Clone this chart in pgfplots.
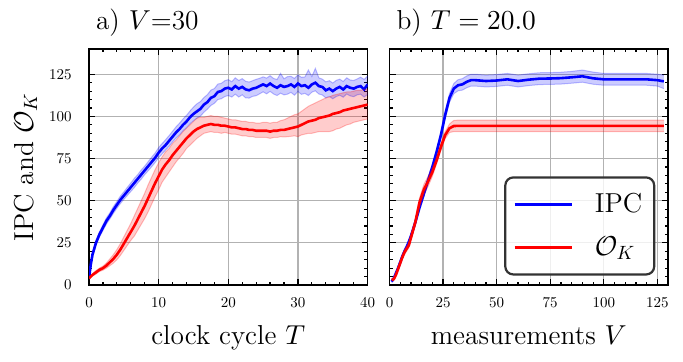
\RequirePackage{fix-cm}
\documentclass[border=0pt]{standalone}
\usepackage{pgfplots}
\pgfplotsset{compat=1.18}
\usepgfplotslibrary{fillbetween}
\usepackage{pgfplotstable}
% 10pt design of Computer Modern at every size
\DeclareFontShape{OT1}{cmr}{m}{n}{<-> cmr10}{}
\DeclareFontShape{OML}{cmm}{m}{it}{<-> cmmi10}{}
\DeclareFontShape{OMS}{cmsy}{m}{n}{<-> cmsy10}{}

% a) V=30, over the clock cycle T
\pgfplotstableread{
T    ipc   ipclo ipchi ok    oklo  okhi
0    4     3     5     4     3.5   4.5
0.25 12    10.5  13.5  5     4.5   5.5
0.5  18    16.5  19.5  6     5.3   6.7
1    25    23.5  26.5  7.5   6.5   8.5
1.5  30    28.5  31.5  9     8     10
2    34    32.3  35.7  10    8.8   11.2
2.5  38    36.2  39.8  11.5  10    13
3    41    39.2  42.8  13.5  11.5  15.5
3.5  44.5  42.5  46.5  15.5  13    18
4    47.5  45.5  49.5  18    15    21
4.5  50.5  48.3  52.7  21    17.5  24.5
5    53    50.8  55.2  24.5  20.5  28.5
5.5  55.5  53.1  57.9  28    23.5  32.5
6    58    55.5  60.5  31.5  26.5  36.5
6.5  60.5  57.8  63.2  35    29    41
7    63    60.5  65.5  39    32.5  45.5
7.5  65.5  62.8  68.2  43    36    50
8    68    65.5  70.5  47    39.5  54.5
8.5  70.5  67.8  73.2  51.5  43.5  59.5
9    73    70.2  75.8  56    48    64
9.5  75.5  72.7  78.3  60.5  52.5  68.5
10   78.5  75.5  81.5  64.5  56.5  72.5
10.5 81    77.8  83.9  68.5  61    76
11   83    80    86.2  71.5  64    79
11.5 85.5  82.3  88.6  74    67    81
12   88    84.8  91.2  77    70    84
12.5 90.5  87.2  93.8  79.5  73    86
13   92.5  89    96    82    75.5  88.5
13.5 95    91.5  98.5  84.5  78    91
14   97    93.3  100.6 87    81    93
14.5 99.5  95.6  103.2 89    83    95
15   101.5 97.5  105.5 91    85    97
15.5 103   99    107.5 92.5  87    99
16   104.5 100.2 108.8 93.5  88.5  99.5
16.5 107   102.5 111.2 94.5  90    99.5
17   108.5 104.3 112.9 95    90.5  100
17.5 111   106.5 115.6 95.5  91    100.5
18   112   107.8 116.5 95    90.5  100
18.5 114.5 110   119.2 95    90.5  100
19   115   110.5 119.6 94.5  90    99.5
19.5 116.5 111.8 121.2 94.5  90.5  99
20   117   112.4 121.8 94    90    98.5
20.5 116   111.5 120.6 93.5  89.5  98
21   118   113.2 122.9 93.5  89.5  98
21.5 116.5 111.5 121.3 93    89    97.5
22   117.5 112.8 122.4 92.5  88.5  97
22.5 116   111   120.8 92.5  88.5  97
23   115.5 110.9 120.4 92    88    96.5
23.5 116.5 111.9 121.2 92    88    96.5
24   117   112.3 122   91.5  87.5  96
24.5 118   113.4 122.6 91.5  87.5  96
25   119   114.6 123.5 91.5  87.5  96.5
25.5 118   113.4 122.7 91.5  87.5  96.5
26   119.5 114.9 124.2 91    87    96
26.5 118   113.3 122.5 91.5  87.5  96.5
27   117   112.4 121.9 91.5  87.5  96.5
27.5 118.5 113.8 125.5 92    88    97.5
28   117.5 112.8 122.3 92    87.8  98
28.5 118   113.2 123.6 92.5  88    99
29   119   114.3 123.8 93    88.2  100
29.5 117.5 112.6 122.5 93.5  88.5  101
30   119.5 114.8 124.6 94    88    101.5
30.5 118   113.1 123.2 95    89    103
31   118.5 113.7 123.4 96    89.5  104.5
31.5 117   112.4 127.5 97    90    106
32   119   114.4 123.7 97.5  90    107
32.5 120   115.2 128.5 98    90.5  108
33   118   113.3 122.9 99    91    109
33.5 117.5 112.7 122.1 99.5  91    110
34   115.5 111   120.5 100   91    111
34.5 116.5 111.9 121.2 100.5 91    111.5
35   115   110.5 119.8 101.5 91.5  112.5
35.5 116.5 111.8 121.4 102   92.5  113
36   117.5 112.6 122.1 102.5 93    113.5
36.5 116   111.4 120.7 103.5 94    114
37   118   113.3 122.9 104   95    114.5
37.5 117   112.2 121.6 104.5 95.5  114.5
38   116.5 111.7 121.3 105   96.5  115
38.5 117.5 112.8 122.2 105.5 97    115.5
39   118   113.2 123.3 106   97.5  115.5
39.5 116   111.5 121.9 106.5 98    116
40   119   113   124   107   98.5  116
}\lefttable

% b) T=20.0, over the measurements V
\pgfplotstableread{
V    ipc   ipclo ipchi ok    oklo  okhi
1    2     1.5   2.5   3     2.5   3.5
2    4     3.3   4.7   3.5   2.8   4.2
3    7     6     8     6     5     7
4    10    9     11    9.5   8.5   10.5
5    13.5  12.3  14.7  13    11.8  14.2
6    17    15.7  18.3  16.5  15.2  17.8
7    20    18.6  21.4  19.5  18    21
8    22.5  21    24    21.5  20    23
9    25.5  24    27    23.5  22    25
10   29    27.5  30.5  28    26.5  29.5
12   37    35.5  38.5  37    35    39
14   46    44.3  47.7  49    46.5  51.5
16   54    52.3  55.7  56.5  53.5  59.5
18   62    60.3  63.7  61.5  58.5  64.5
20   70    68.2  71.8  67    64.5  69.5
22   79    77    81    74    72    76
24   89    87    91    82    80    84
26   101   98.8  103.2 89    87    91
28   111   108.5 113.5 93    90.5  95.5
30   116.5 113.5 119.5 94.3  91    97.6
32   118.5 115.2 121.8 94.4  91    97.8
34   119   115.6 122.4 94.4  91    97.8
36   120.5 117   124   94.4  91    97.8
38   121.5 118   125   94.4  91    97.8
40   121.5 118   125   94.4  91    97.8
45   121   117.5 124.5 94.4  91    97.8
50   121.3 117.8 124.8 94.4  91    97.8
55   122   118.5 125.5 94.4  91    97.8
60   121   117.5 124.5 94.4  91    97.8
65   121.8 118.3 125.3 94.4  91    97.8
70   122.4 118.9 125.9 94.4  91    97.8
75   122.5 119   126   94.4  91    97.8
80   122.7 119.2 126.2 94.4  91    97.8
85   123.2 119.7 126.7 94.4  91    97.8
90   123.8 120.3 127.5 94.4  91    97.8
95   122.6 119.1 126.3 94.4  91    97.8
100  122   118.5 125.5 94.4  91    97.8
110  122   118.5 125.5 94.4  91    97.8
120  122   118.5 125.5 94.4  91    97.8
125  121.5 118   125   94.4  91    97.8
128  120.8 116.5 124.5 94.4  91    97.8
}\righttable

\newcommand{\lbl}{\fontsize{13.7}{16}\selectfont}

\pgfplotsset{
  panel/.style={
    scale only axis, width=139.3pt, height=118pt, anchor=south west,
    axis line style={line width=0.75pt},
    every tick/.style={black, line width=0.6pt},
    major tick length=3pt, minor tick length=1.7pt,
    tick align=inside,
    grid=major, major grid style={black!30, line width=0.6pt},
    ymin=0, ymax=140, ytick={0,25,...,125}, minor y tick num=4,
    tick label style={font=\fontsize{7.5}{9}\selectfont},
    xticklabel style={inner ysep=6pt},
    yticklabel style={inner xsep=8.5pt},
    label style={font=\lbl},
    every axis title shift=0pt,
    title style={font=\lbl, anchor=base west,
      at={(axis description cs:0,1.0805)}},
    xlabel style={at={(axis description cs:0.5,-0.254)}, anchor=base},
    no marks,
  },
  band/.style={#1, opacity=0.25, line width=0.5pt, forget plot},
  bandfill/.style={fill=#1, fill opacity=0.2, draw=none, forget plot},
  mean/.style={#1, line width=1.3pt},
}

\begin{document}
\begin{tikzpicture}
\begin{axis}[panel, at={(44.5pt,38.5pt)},
  xmin=0, xmax=40, xtick={0,10,...,40}, minor x tick num=4,
  title={a) $V$=30},
  xlabel={clock cycle $T$},
  ylabel={IPC and $\mathcal{O}_K$},
  ylabel style={at={(axis description cs:-0.2007,0.5)}, anchor=base, rotate=0},
]
  \addplot[band=blue, name path=ah] table[x=T, y=ipchi] {\lefttable};
  \addplot[band=blue, name path=al] table[x=T, y=ipclo] {\lefttable};
  \addplot[bandfill=blue] fill between[of=ah and al];
  \addplot[mean=blue] table[x=T, y=ipc] {\lefttable};
  \addplot[band=red, name path=bh] table[x=T, y=okhi] {\lefttable};
  \addplot[band=red, name path=bl] table[x=T, y=oklo] {\lefttable};
  \addplot[bandfill=red] fill between[of=bh and bl];
  \addplot[mean=red] table[x=T, y=ok] {\lefttable};
\end{axis}
\begin{axis}[panel, at={(194.75pt,38.5pt)},
  xmin=0, xmax=130, xtick={0,25,...,125}, minor x tick num=4,
  yticklabels={},
  title={b) $T=20.0$},
  xlabel={measurements $V$},
  legend cell align=left,
  legend image code/.code={
    \draw[#1, line width=1.3pt] (0pt,0pt) -- (28.5pt,0pt);
    \path (37.5pt,0pt);},
  legend style={at={(axis description cs:0.954,0.04)}, anchor=south east,
    draw=black!80, line width=1.1pt, rounded corners=4pt,
    fill=white, fill opacity=0.8, text opacity=1, font=\lbl,
    inner xsep=4pt, inner ysep=6pt, row sep=6.5pt},
]
  \addplot[band=blue, name path=ch] table[x=V, y=ipchi] {\righttable};
  \addplot[band=blue, name path=cl] table[x=V, y=ipclo] {\righttable};
  \addplot[bandfill=blue] fill between[of=ch and cl];
  \addplot[mean=blue] table[x=V, y=ipc] {\righttable};
  \addlegendentry{IPC}
  \addplot[band=red, name path=dh] table[x=V, y=okhi] {\righttable};
  \addplot[band=red, name path=dl] table[x=V, y=oklo] {\righttable};
  \addplot[bandfill=red] fill between[of=dh and dl];
  \addplot[mean=red] table[x=V, y=ok] {\righttable};
  \addlegendentry{$\mathcal{O}_K$}
\end{axis}
\pgfresetboundingbox
\path (0pt,0pt) rectangle (341.5pt,181pt);
\end{tikzpicture}
\end{document}
